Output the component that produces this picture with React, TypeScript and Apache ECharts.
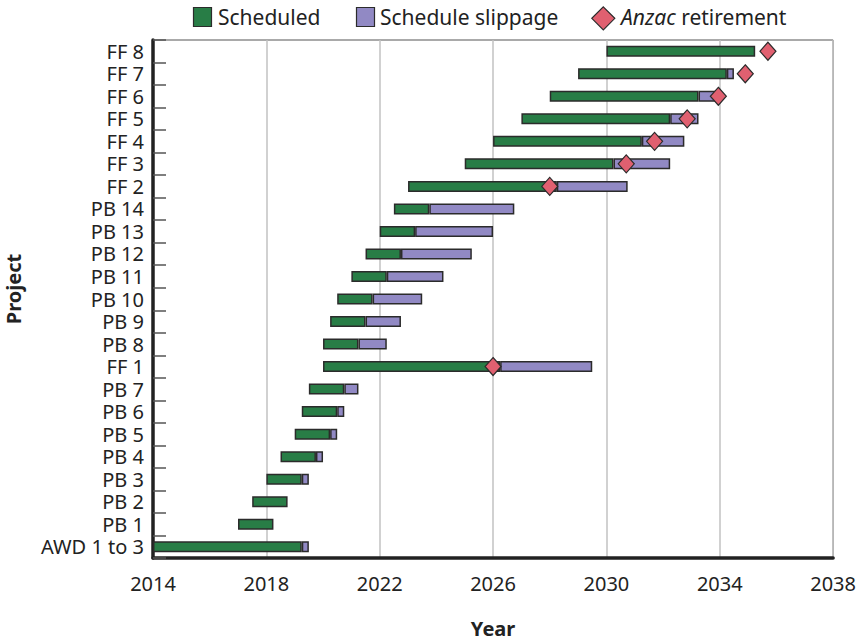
import React, { useEffect, useRef } from "react";
import * as echarts from "echarts";

const categories = [
  "AWD 1 to 3", "PB 1", "PB 2", "PB 3", "PB 4", "PB 5", "PB 6", "PB 7", "FF 1",
  "PB 8", "PB 9", "PB 10", "PB 11", "PB 12", "PB 13", "PB 14",
  "FF 2", "FF 3", "FF 4", "FF 5", "FF 6", "FF 7", "FF 8",
];
const startYear = [
  2014, 2017, 2017.5, 2018, 2018.5, 2019, 2019.25, 2019.5, 2020,
  2020, 2020.25, 2020.5, 2021, 2021.5, 2022, 2022.5,
  2023, 2025, 2026, 2027, 2028, 2029, 2030,
];
const scheduledEnd = [
  2019.25, 2018.25, 2018.75, 2019.25, 2019.75, 2020.25, 2020.5, 2020.75, 2026.25,
  2021.25, 2021.5, 2021.75, 2022.25, 2022.75, 2023.25, 2023.75,
  2028.25, 2030.25, 2031.25, 2032.25, 2033.25, 2034.25, 2035.25,
];
const slippageEnd: (number | null)[] = [
  2019.5, null, null, 2019.5, 2020, 2020.5, 2020.75, 2021.25, 2029.5,
  2022.25, 2022.75, 2023.5, 2024.25, 2025.25, 2026, 2026.75,
  2030.75, 2032.25, 2032.75, 2033.25, 2033.9, 2034.5, null,
];
const retirementProjects = ["FF 1", "FF 2", "FF 3", "FF 4", "FF 5", "FF 6", "FF 7", "FF 8"];
const retirementYear = [2026, 2028, 2030.7, 2031.7, 2032.85, 2033.95, 2034.9, 2035.7];
const xTicks = { min: 2014, max: 2038, interval: 4 };

const GREEN = "#287d46";
const PURPLE = "#9189c4";
const RED = "#e06070";
const EDGE = "#2b2b2b";
const FONT = "Noto Sans";

export default function App() {
  const ref = useRef<HTMLDivElement>(null);
  useEffect(() => {
    if (!ref.current) return;
    const chart = echarts.init(ref.current, null, { renderer: "svg" });
    const schedDur = scheduledEnd.map((e, i) => +(e - startYear[i]).toFixed(3));
    const slipDur = slippageEnd.map((e, i) => (e == null ? null : +(e - scheduledEnd[i]).toFixed(3)));
    chart.setOption({
      animation: false,
      textStyle: { fontFamily: FONT },
      grid: {
        left: 153, right: 25, top: 40, bottom: 81,
        show: true, borderColor: "#555", borderWidth: 1,
      },
      xAxis: {
        type: "value",
        min: xTicks.min, max: xTicks.max, interval: xTicks.interval,
        axisLine: { show: true, lineStyle: { color: "#222", width: 3.5 } },
        axisTick: { show: false },
        axisLabel: {
          fontSize: 20, color: "#222", margin: 25, fontFamily: FONT,
          verticalAlign: "middle", lineHeight: 20,
          formatter: (v: number) => String(v),
        },
        splitLine: { show: true, lineStyle: { color: "#c2c2c2", width: 1.5 } },
        name: "Year",
        nameLocation: "middle",
        nameGap: 70,
        nameTextStyle: {
          fontSize: 20, fontWeight: "bold", color: "#222", fontFamily: FONT,
          verticalAlign: "middle", lineHeight: 20,
        },
      },
      yAxis: {
        type: "category",
        data: categories,
        axisLine: { show: true, lineStyle: { color: "#222", width: 3.5 } },
        axisTick: { show: true, inside: true, length: 13, interval: 0, lineStyle: { color: "#555", width: 1.5 } },
        axisLabel: { fontSize: 20, lineHeight: 19, color: "#222", margin: 9, interval: 0, fontFamily: FONT },
        splitLine: { show: false },
      },
      graphic: [
        {
          type: "text", x: 13, y: 289, rotation: Math.PI / 2,
          style: { text: "Project", font: `bold 20px "${FONT}"`, fill: "#222", align: "center", verticalAlign: "middle" },
        },
        { type: "rect", shape: { x: 193.5, y: 7.5, width: 18, height: 19 }, style: { fill: GREEN, stroke: EDGE, lineWidth: 1.2 } },
        {
          type: "text", x: 218, y: 17,
          style: { text: "Scheduled", font: `21px "${FONT}"`, fill: "#222", verticalAlign: "middle" },
        },
        { type: "rect", shape: { x: 356.5, y: 7.5, width: 18, height: 19 }, style: { fill: PURPLE, stroke: EDGE, lineWidth: 1.2 } },
        {
          type: "text", x: 380, y: 17,
          style: { text: "Schedule slippage", font: `21px "${FONT}"`, fill: "#222", verticalAlign: "middle" },
        },
        {
          type: "polygon",
          shape: { points: [[603.3, 6.8], [614.8, 18.3], [603.3, 29.8], [591.8, 18.3]] },
          style: { fill: RED, stroke: EDGE, lineWidth: 1.2 },
        },
        {
          type: "text", x: 621, y: 17,
          style: {
            text: "{i|Anzac} retirement",
            font: `21px "${FONT}"`, fill: "#222", verticalAlign: "middle",
            rich: { i: { fontStyle: "italic", fontSize: 21, fontFamily: FONT, fill: "#222", color: "#222" } },
          },
        },
      ],
      series: [
        {
          name: "start",
          type: "bar",
          stack: "t",
          silent: true,
          barWidth: 11,
          itemStyle: { color: "transparent", borderWidth: 0 },
          data: startYear,
        },
        {
          name: "Scheduled",
          type: "bar",
          stack: "t",
          barWidth: 11,
          itemStyle: { color: GREEN, borderColor: EDGE, borderWidth: 1.5 },
          data: schedDur,
        },
        {
          name: "Schedule slippage",
          type: "bar",
          stack: "t",
          barWidth: 11,
          itemStyle: { color: PURPLE, borderColor: EDGE, borderWidth: 1.5 },
          data: slipDur,
        },
        {
          name: "Anzac retirement",
          type: "scatter",
          symbol: "diamond",
          symbolSize: [16, 18],
          z: 5,
          itemStyle: { color: RED, borderColor: EDGE, borderWidth: 1.2, opacity: 1 },
          data: retirementProjects.map((p, i) => [retirementYear[i], p]),
        },
      ],
    });
    return () => chart.dispose();
  }, []);
  return (
    <div
      ref={ref}
      style={{ position: "fixed", left: 0, top: 0, width: 859, height: 643, background: "#fff" }}
    />
  );
}
